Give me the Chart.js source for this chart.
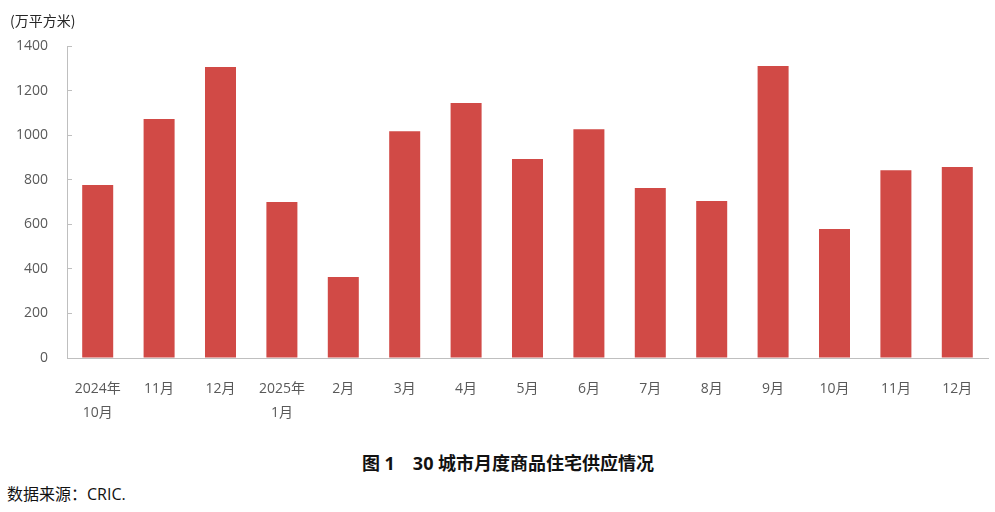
<!DOCTYPE html>
<html>
<head>
<meta charset="utf-8">
<script src="https://cdn.jsdelivr.net/npm/chart.js@4/dist/chart.umd.min.js"></script>
<style>
  html, body { margin: 0; padding: 0; background: #ffffff; }
  body { width: 995px; height: 512px; position: relative; overflow: hidden; font-family: "Open Sans", "Noto Sans CJK SC", sans-serif; }
  #wrap { position: absolute; left: 0; top: 0; width: 995px; height: 440px; }
  .txt { position: absolute; white-space: pre; line-height: 1; }
  #unit { left: 10px; top: 13px; font-size: 14px; color: #262626; font-family: "Noto Sans CJK SC", sans-serif; }
  #title { left: 0; width: 1016px; text-align: center; top: 454px; font-size: 18px; font-weight: bold; color: #111111; }
  #source { left: 7px; top: 486px; font-size: 16px; color: #111111; }
</style>
</head>
<body>
<div id="wrap"><canvas id="c"></canvas></div>
<div class="txt" id="unit">(万平方米)</div>
<div class="txt" id="title">图 1　30 城市月度商品住宅供应情况</div>
<div class="txt" id="source">数据来源：CRIC.</div>
<script>
const categories = [
  ['2024年', '10月'], '11月', '12月', ['2025年', '1月'], '2月', '3月', '4月',
  '5月', '6月', '7月', '8月', '9月', '10月', '11月', '12月'
];
const supply = [776, 1072, 1306, 700, 363, 1018, 1144, 893, 1027, 763, 704, 1310, 579, 843, 857];
const yTicks = [0, 200, 400, 600, 800, 1000, 1200, 1400];

const fontFam = '"Open Sans", "Noto Sans CJK SC", sans-serif';

new Chart(document.getElementById('c'), {
  type: 'bar',
  data: {
    labels: categories,
    datasets: [{
      data: supply,
      backgroundColor: '#d14a46',
      borderWidth: 0,
      barPercentage: 1,
      categoryPercentage: 0.505
    }]
  },
  options: {
    responsive: true,
    maintainAspectRatio: false,
    animation: false,
    devicePixelRatio: 1,
    layout: { padding: { top: 46, right: 7, left: 0, bottom: 0 } },
    plugins: { legend: { display: false }, tooltip: { enabled: false }, title: { display: false } },
    scales: {
      x: {
        grid: { display: false },
        border: { display: true, color: '#bfbfbf', width: 1 },
        ticks: {
          color: '#595959',
          font: { family: fontFam, size: 14, lineHeight: '24px' },
          padding: 11,
          maxRotation: 0,
          autoSkip: false
        },
        afterFit: (s) => { s.height = 82; }
      },
      y: {
        min: 0,
        max: 1400,
        afterBuildTicks: (s) => { s.ticks = yTicks.map(v => ({ value: v })); },
        grid: { display: true, drawOnChartArea: false, drawTicks: true, tickLength: -5, color: '#bfbfbf' },
        border: { display: true, color: '#bfbfbf', width: 1 },
        ticks: {
          color: '#595959',
          font: { family: fontFam, size: 14 },
          padding: 24,
          callback: (v) => String(v)
        },
        afterFit: (s) => { s.width = 67; }
      }
    }
  }
});
</script>
</body>
</html>
